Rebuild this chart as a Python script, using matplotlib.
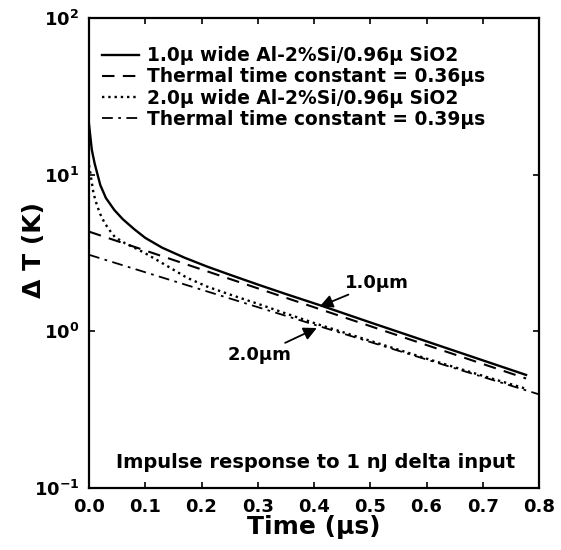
import matplotlib
matplotlib.use("Agg")
import matplotlib.pyplot as plt
from matplotlib.ticker import FixedLocator, NullLocator

plt.rcParams["font.family"] = ["DejaVu Sans"]
plt.rcParams["font.weight"] = "bold"
plt.rcParams["mathtext.fontset"] = "dejavusans"

# 1.0u wide line (solid) - simulated response
t_w1 = [0.0, 0.005, 0.01, 0.02, 0.03, 0.045, 0.06, 0.08, 0.10, 0.13, 0.17,
        0.21, 0.25, 0.30, 0.35, 0.41, 0.50, 0.60, 0.70, 0.777]
dT_w1 = [21.0, 14.4, 11.8, 8.6, 7.1, 5.95, 5.2, 4.5, 3.95, 3.42, 2.95,
         2.59, 2.30, 1.99, 1.73, 1.47, 1.14, 0.863, 0.653, 0.527]

# 2.0u wide line (dotted)
t_w2 = [0.0, 0.002, 0.005, 0.008, 0.014, 0.02, 0.028, 0.037, 0.046, 0.064,
        0.082, 0.10, 0.14, 0.174, 0.21, 0.25, 0.30, 0.35, 0.41, 0.50,
        0.60, 0.70, 0.777]
dT_w2 = [11.5, 10.5, 8.9, 7.6, 6.4, 5.6, 4.9, 4.4, 4.0, 3.65,
         3.4, 3.15, 2.6, 2.2, 1.93, 1.72, 1.50, 1.30, 1.10, 0.87,
         0.67, 0.52, 0.43]

# single time-constant fits (start / end points of the straight lines)
t_fit1 = [0.0, 0.777]
dT_fit1 = [4.33, 0.50]
t_fit2 = [0.0, 0.80]
dT_fit2 = [3.08, 0.396]

labels = ["1.0\u00b5 wide Al-2%Si/0.96\u00b5 SiO2",
          "Thermal time constant = 0.36\u00b5s",
          "2.0\u00b5 wide Al-2%Si/0.96\u00b5 SiO2",
          "Thermal time constant = 0.39\u00b5s"]

xticks = [0.0, 0.1, 0.2, 0.3, 0.4, 0.5, 0.6, 0.7, 0.8]
yticks = [0.1, 1, 10, 100]
ytick_labels = [r"$\mathbf{10^{-1}}$", r"$\mathbf{10^{0}}$",
                r"$\mathbf{10^{1}}$", r"$\mathbf{10^{2}}$"]

fig = plt.figure(figsize=(5.61, 5.50), dpi=100)
ax = fig.add_axes([89 / 561, 62 / 550, 450 / 561, 470 / 550])

ax.plot(t_w1, dT_w1, "-", color="k", lw=1.7, label=labels[0])
ax.plot(t_fit1, dT_fit1, "--", color="k", lw=1.5, dashes=(6, 4), label=labels[1])
ax.plot(t_w2, dT_w2, ":", color="k", lw=1.7, label=labels[2])
ax.plot(t_fit2, dT_fit2, "-.", color="k", lw=1.3, dashes=(6, 3, 1.5, 3), label=labels[3])

ax.set_yscale("log")
ax.set_xlim(0, 0.8)
ax.set_ylim(0.1, 100)
ax.xaxis.set_major_locator(FixedLocator(xticks))
ax.set_xticklabels([f"{v:.1f}" for v in xticks])
ax.yaxis.set_major_locator(FixedLocator(yticks))
ax.yaxis.set_minor_locator(NullLocator())
ax.set_yticklabels(ytick_labels)
ax.tick_params(direction="in", top=True, right=True, length=4, width=1.2,
               labelsize=13, pad=7)
for s in ax.spines.values():
    s.set_linewidth(1.6)

ax.set_xlabel("Time (\u00b5s)", fontsize=18, weight="bold")
ax.set_ylabel("\u0394 T (K)", fontsize=18, weight="bold")
ax.xaxis.set_label_coords(0.5, -0.058)
ax.yaxis.set_label_coords(-0.095, 0.506)

leg = ax.legend(loc="upper left", bbox_to_anchor=(0.0, 0.968), frameon=False,
                fontsize=13.4, handlelength=2.0, handletextpad=0.4,
                labelspacing=0.12, borderaxespad=0.3)
for txt in leg.get_texts():
    txt.set_weight("bold")

ax.text(0.503, 0.055, "Impulse response to 1 nJ delta input", ha="center",
        va="center", fontsize=14, weight="bold", transform=ax.transAxes)

arw = dict(arrowstyle="-|>,head_length=0.6,head_width=0.3", color="k", lw=1.3,
           shrinkA=0, shrinkB=0)
ax.annotate("1.0\u00b5m", xy=(0.41, 1.44), xytext=(0.455, 2.04),
            fontsize=13, weight="bold", ha="left", va="center", arrowprops=arw)
ax.annotate("2.0\u00b5m", xy=(0.405, 1.05), xytext=(0.304, 0.71),
            fontsize=13, weight="bold", ha="center", va="center", arrowprops=arw)

fig.savefig("out.png", dpi=100)
